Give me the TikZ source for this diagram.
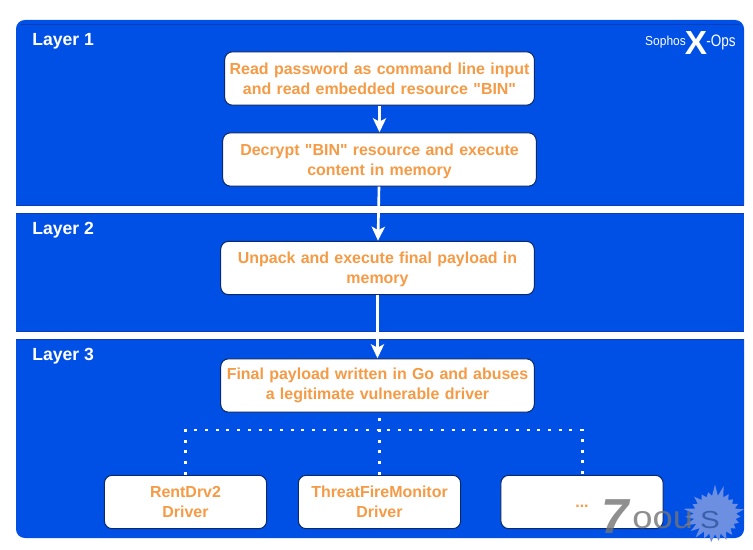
\documentclass[tikz,border=0pt]{standalone}
\usepackage{fontspec}
\setmainfont{Liberation Sans}
\usetikzlibrary{arrows.meta,shapes.symbols}
\definecolor{panelblue}{HTML}{0050E6}
\definecolor{paneledge}{HTML}{0A3DB8}
\definecolor{boxedge}{HTML}{0B2A6B}
\definecolor{textorange}{HTML}{F59A45}
\definecolor{splash}{HTML}{6C8FE2}
\newcommand{\lowerline}[2]{\raisebox{-#1}[\height][\depth]{#2}}
\begin{document}
\begin{tikzpicture}[x=0.02cm,y=0.02cm,
   panel/.style={fill=panelblue},
   seam/.style={draw=paneledge,line width=0.5pt},
   layer/.style={text=white,font=\fontsize{10}{12}\selectfont\bfseries,anchor=west,inner sep=0pt},
   stepbox/.style={draw=boxedge,fill=white,rounded corners=4.5pt,line width=0.6pt,
      text=textorange,font=\fontsize{9.08}{11.3}\selectfont\bfseries,align=center,
      inner sep=0pt,minimum height=30.4pt},
   wide/.style={stepbox,text width=176pt,minimum width=178.5pt},
   driverbox/.style={stepbox,minimum width=92.4pt,text width=90pt},
   flow/.style={draw=white,line width=1.5pt,-{Stealth[length=8pt,width=7.5pt,inset=2pt]}},
   dots/.style={draw=white,line width=1.7pt,dash pattern=on 1.7pt off 4.4pt},
   logo/.style={text=white,inner sep=0pt},
   stamp/.style={text=gray!90!black,opacity=0.8,inner sep=0pt}]
\useasboundingbox (0,0) rectangle (753,-550);

\path[panel] (16,-205) [rounded corners=5pt] -- (16,-20) -- (744,-20) [sharp corners] -- (744,-205) -- cycle;
\path[panel] (16,-213) rectangle (744,-331);
\path[panel] (16,-339) [rounded corners=5pt] -- (16,-538) -- (744,-538) [sharp corners] -- (744,-339) -- cycle;
\draw[seam] (20,-24) -- (740,-24);
\draw[seam] (16,-205) -- (744,-205);
\draw[seam] (16,-213) -- (744,-213);
\draw[seam] (16,-331) -- (744,-331);
\draw[seam] (16,-339) -- (744,-339);

\node[layer] (layer1) at (32,-41) {Layer 1};
\node[layer] (layer2) at (32,-230) {Layer 2};
\node[layer] (layer3) at (32,-356) {Layer 3};

\node[logo,font=\fontsize{7.4}{8}\selectfont] (sophos) at (665.5,-42) {\scalebox{0.92}[1]{Sophos}};
\node[logo,font=\fontsize{19}{20}\selectfont\bfseries] (xmark) at (696,-43) {X};
\node[logo,font=\fontsize{9.4}{10}\selectfont] (ops) at (721,-42) {\scalebox{0.82}[1]{-Ops}};

\node[wide,minimum width=176.3pt] (readpw) at (379.5,-78.5) {Read password as command line input\\and read embedded resource \textquotedbl BIN\textquotedbl};
\node[wide] (decrypt) at (379.5,-159.5) {\lowerline{1.1pt}{Decrypt \textquotedbl BIN\textquotedbl{} resource and execute}\\\lowerline{1.1pt}{content in memory}};
\node[wide] (unpack) at (377.5,-268) {\lowerline{0.6pt}{Unpack and execute final payload in}\\\lowerline{0.6pt}{memory}};
\node[wide] (final) at (377.5,-385.5) {Final payload written in Go and abuses\\a legitimate vulnerable driver};

\node[driverbox] (rent) at (185.5,-502) {RentDrv2\\Driver};
\node[driverbox] (threat) at (379.5,-502) {ThreatFireMonitor\\Driver};
\node[driverbox] (more) at (582,-502) {\lowerline{2.3pt}{...}};

\draw[flow] (readpw) -- (decrypt);
\draw[flow] (decrypt) -- (unpack);
\draw[flow] (unpack) -- (final);

\coordinate (bus) at (379.5,-430);
\draw[dots] (threat.north) -- (threat.north |- final.south);
\draw[dots] (rent.north) |- (bus) -| (more.north);

\node[starburst,fill=splash,starburst points=23,starburst point height=7pt,
   random starburst=7,minimum width=38pt,minimum height=36pt,inner sep=0pt] (blot) at (715,-515) {};
\node[stamp,font=\fontsize{28}{28}\selectfont\bfseries\itshape] (seven) at (615,-517) {7};
\node[stamp,font=\fontsize{18}{18}\selectfont,anchor=west] (oou) at (632,-520) {\scalebox{1.15}[1]{oou}};
\node[stamp,font=\fontsize{14}{14}\selectfont,text=boxedge!60!splash] (ess) at (710,-520) {\scalebox{1.2}[1]{S}};
\end{tikzpicture}
\end{document}
